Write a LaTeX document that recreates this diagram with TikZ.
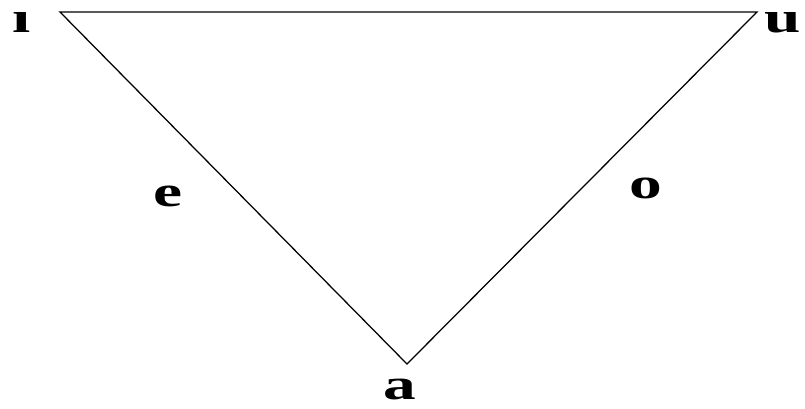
\documentclass[tikz,border=0pt]{standalone}
\usepackage{fontspec}
\setmainfont{Liberation Serif}
\usepackage{tikz}

\begin{document}
\begin{tikzpicture}[x=0.025cm, y=-0.025cm, vowel/.style={font=\fontsize{31}{33}\selectfont\bfseries, xscale=1.5, inner sep=0pt, anchor=base}]
	\useasboundingbox (0,0) rectangle (805,409);
	\coordinate (front) at (60,12);
	\coordinate (back) at (757,12);
	\coordinate (low) at (407,364);
	\draw[line width=0.9pt] (front) -- (back) -- (low) -- cycle;
	\node[vowel] (li) at (22,32) {\i};
	\node[vowel] (lu) at (783,32) {u};
	\node[vowel] (le) at (168,206) {e};
	\node[vowel] (lo) at (646,198) {o};
	\node[vowel] (la) at (400,399) {a};
\end{tikzpicture}
\end{document}
